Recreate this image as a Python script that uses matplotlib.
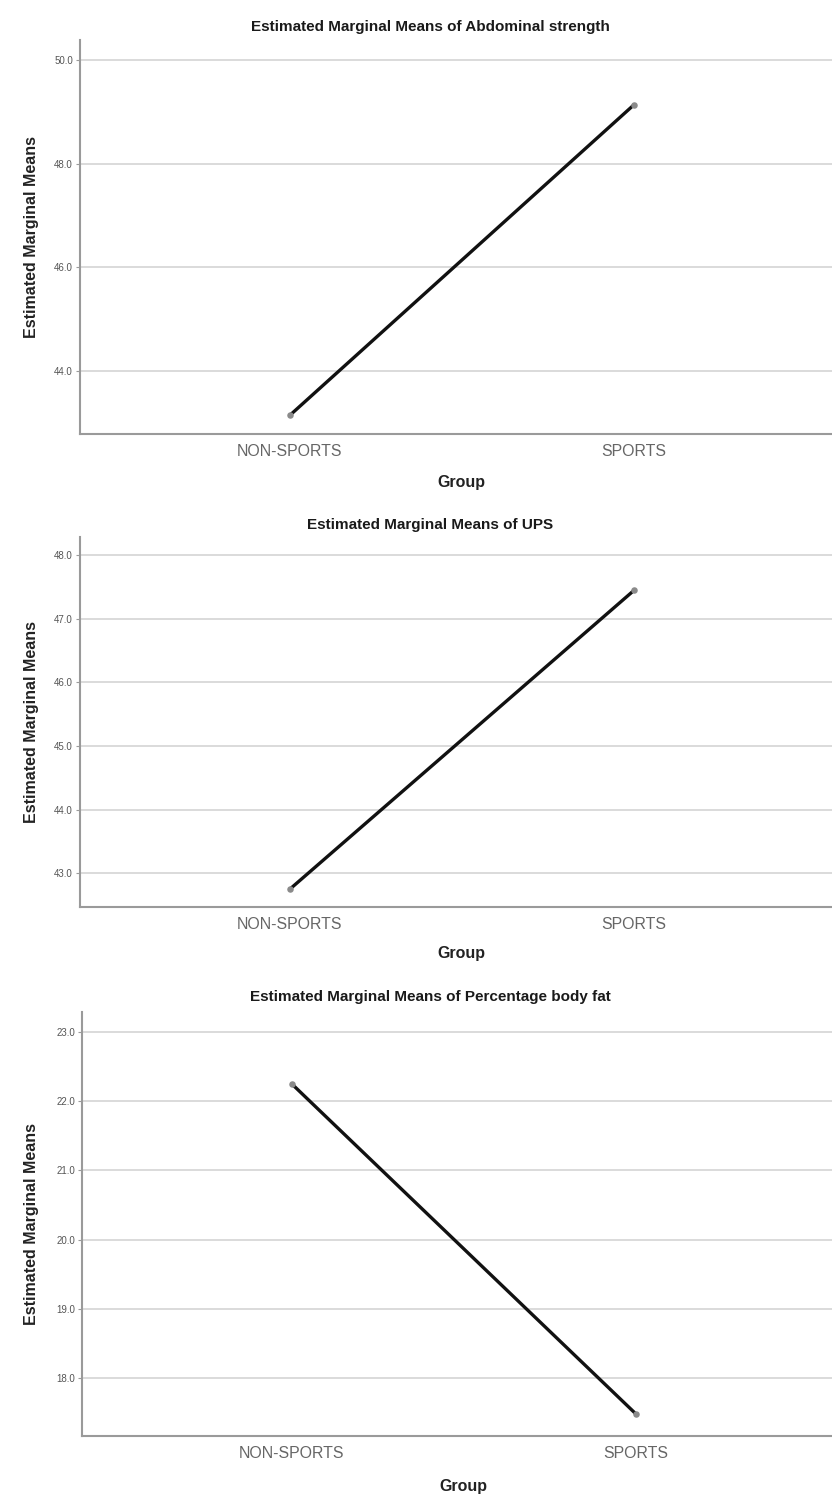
import matplotlib

matplotlib.use("Agg")
import matplotlib.pyplot as plt

groups = ["NON-SPORTS", "SPORTS"]

titles = [
    "Estimated Marginal Means of Abdominal strength",
    "Estimated Marginal Means of UPS",
    "Estimated Marginal Means of Percentage body fat",
]
abdominal = [43.15, 49.13]
ups = [42.75, 47.44]
body_fat = [22.25, 17.48]
series = [abdominal, ups, body_fat]

yticks = [
    [44.0, 46.0, 48.0, 50.0],
    [43.0, 44.0, 45.0, 46.0, 47.0, 48.0],
    [18.0, 19.0, 20.0, 21.0, 22.0, 23.0],
]
ylims = [(42.79, 50.38), (42.47, 48.28), (17.16, 23.29)]

W, H = 832, 1497
plt.rcParams["font.family"] = ["Liberation Sans", "DejaVu Sans"]

# pixel layout: (left, top, bottom, title_y, xlabel_y)
layout = [
    (80, 40, 434, 27, 483),
    (80, 537, 907, 525, 953),
    (82, 1012, 1436, 997, 1487),
]
x_lo, x_hi = -0.61, 1.61
px_per_unit = 344.0

fig = plt.figure(figsize=(W / 100, H / 100), dpi=100)

for i, (left, top, bottom, title_y, xlabel_y) in enumerate(layout):
    width = (x_hi - x_lo) * px_per_unit
    ax = fig.add_axes([left / W, 1 - bottom / H, width / W, (bottom - top) / H])
    xs = list(range(len(groups)))
    ax.plot(xs, series[i], color="#111111", lw=2.4, solid_capstyle="round", zorder=3)
    ax.scatter(xs, series[i], s=22, color="#8a8a8a", zorder=4, linewidths=0)

    ax.set_xlim(x_lo, x_hi)
    ax.set_ylim(*ylims[i])
    ax.set_yticks(yticks[i])
    ax.set_yticklabels([f"{v:.1f}" for v in yticks[i]])
    ax.set_xticks(xs)
    ax.set_xticklabels(groups)

    ax.grid(axis="y", color="#d4d4d4", lw=1.2)
    ax.set_axisbelow(True)
    for side in ["top", "right"]:
        ax.spines[side].set_visible(False)
    for side in ["left", "bottom"]:
        ax.spines[side].set_color("#9a9a9a")
        ax.spines[side].set_linewidth(1.5)

    ax.tick_params(axis="y", labelsize=7, colors="#9a9a9a", labelcolor="#555555",
                   length=3, width=0.8, pad=2)
    ax.tick_params(axis="x", labelsize=11.4, labelcolor="#666666", length=0, pad=7)

    ax.set_ylabel("Estimated Marginal Means", fontsize=11.5, fontweight="bold",
                  color="#222222")
    ax.yaxis.set_label_coords((39 - left) / width, 0.5)

    fig.text(430 / W, 1 - title_y / H, titles[i], ha="center", va="center",
             fontsize=11, fontweight="bold", color="#1a1a1a")
    fig.text((left + (0 - x_lo) * px_per_unit + 0.5 * px_per_unit) / W,
             1 - xlabel_y / H, "Group", ha="center", va="center",
             fontsize=11.5, fontweight="bold", color="#222222")

fig.savefig("out.png", dpi=100)
